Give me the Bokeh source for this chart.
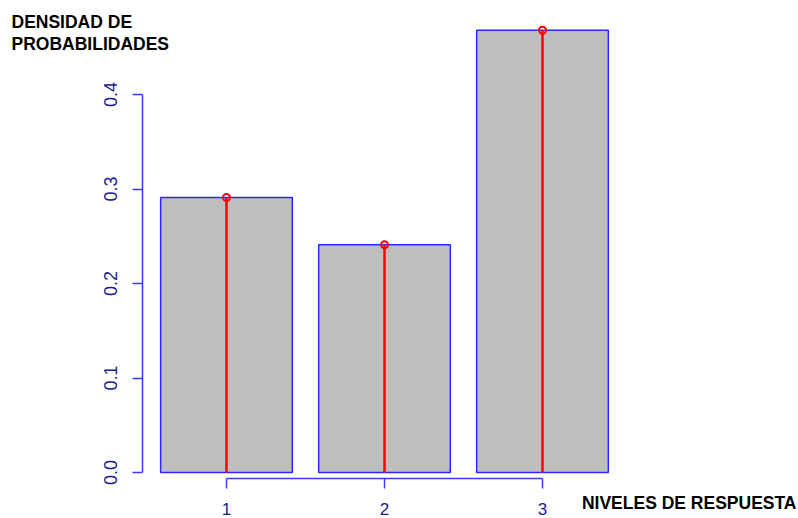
from bokeh.plotting import figure
from bokeh.models import FixedTicker, Label, Range1d
from bokeh.embed import file_html
from bokeh.resources import INLINE

# ---- data ----
levels = [1, 2, 3]
densities = [0.291, 0.241, 0.468]
level_labels = ["1", "2", "3"]
y_ticks = [0.0, 0.1, 0.2, 0.3, 0.4]
y_tick_labels = ["0.0", "0.1", "0.2", "0.3", "0.4"]
y_title = "DENSIDAD DE\nPROBABILIDADES"
x_title = "NIVELES DE RESPUESTA"

# ---- layout (pixel geometry) ----
W, H = 798, 518
FRAME_L, FRAME_R = 142, 614
FRAME_T, FRAME_B = 24, 478
X_PX_PER_UNIT = 158.0
Y_ZERO_PX, Y_PX_PER_UNIT = 472.0, 945.0
x_start = 1 - (226 - FRAME_L) / X_PX_PER_UNIT
x_end = x_start + (FRAME_R - FRAME_L) / X_PX_PER_UNIT
y_start = (Y_ZERO_PX - FRAME_B) / Y_PX_PER_UNIT
y_end = (Y_ZERO_PX - FRAME_T) / Y_PX_PER_UNIT


def px2x(px):
    return x_start + (px - FRAME_L) / X_PX_PER_UNIT


def px2y(py):
    return (Y_ZERO_PX - py) / Y_PX_PER_UNIT


p = figure(width=W, height=H, output_backend="svg", toolbar_location=None,
           x_range=Range1d(x_start, x_end), y_range=Range1d(y_start, y_end),
           min_border_left=FRAME_L, min_border_right=W - FRAME_R,
           min_border_top=FRAME_T, min_border_bottom=H - FRAME_B)
p.outline_line_color = None
p.xgrid.visible = False
p.ygrid.visible = False

axis_color = "#3a3aff"
label_color = "#1c1c8c"

for ax in (p.xaxis[0], p.yaxis[0]):
    ax.axis_line_color = axis_color
    ax.axis_line_width = 1.5
    ax.major_tick_line_color = axis_color
    ax.major_tick_line_width = 1.5
    ax.major_tick_out = 10
    ax.major_tick_in = 0
    ax.minor_tick_line_color = None
    ax.major_label_text_font = "Liberation Sans"
    ax.major_label_text_color = label_color

p.xaxis.ticker = FixedTicker(ticks=levels)
p.xaxis.major_label_overrides = {lv: lab for lv, lab in zip(levels, level_labels)}
p.xaxis.bounds = (levels[0], levels[-1])
p.xaxis.major_label_standoff = 14
p.xaxis.major_label_text_font_size = "17px"

p.yaxis.ticker = FixedTicker(ticks=y_ticks)
p.yaxis.major_label_overrides = {t: lab for t, lab in zip(y_ticks, y_tick_labels)}
p.yaxis.bounds = (y_ticks[0], y_ticks[-1])
p.yaxis.major_label_orientation = "vertical"
p.yaxis.major_label_standoff = 16
p.yaxis.major_label_text_font_size = "18px"

p.vbar(x=levels, top=densities, bottom=0, width=1 / 1.2,
       fill_color="#BEBEBE", line_color="#2a2aff", line_width=1.5)
p.segment(x0=levels, y0=[0] * len(levels), x1=levels, y1=densities,
          line_color="red", line_width=2.5)
p.scatter(x=levels, y=densities, marker="circle", size=7,
          fill_color=None, line_color="red", line_width=2)

font = "Liberation Sans"
common = dict(text_font=font, text_font_size="17.5px", text_font_style="bold",
              text_color="black")
# titles live in side panels (unclipped); positioned in data units
p.add_layout(Label(x=px2x(11), y=px2y(11), text=y_title, text_align="left",
                   text_baseline="top", text_line_height=1.13, **common), "right")
p.add_layout(Label(x=px2x(796), y=px2y(492), text=x_title, text_align="right",
                   text_baseline="top", **common), "above")

open("out.html", "w").write(file_html(p, INLINE))
